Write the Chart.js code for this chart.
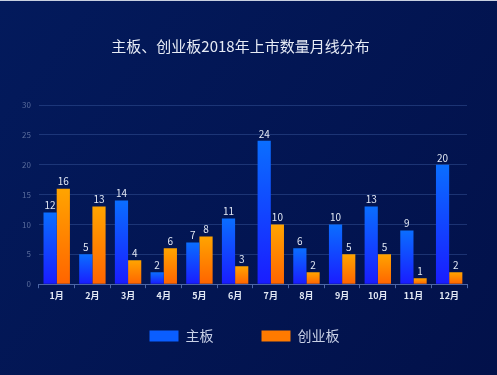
<!DOCTYPE html>
<html>
<head>
<meta charset="utf-8">
<script src="https://cdn.jsdelivr.net/npm/chart.js@4"></script>
<style>
  html, body { margin: 0; padding: 0; background: #03175a; }
  .wrap { width: 497px; height: 375px; position: relative; }
</style>
</head>
<body>
<div class="wrap"><canvas id="barChart"></canvas></div>
<script>
const months = ['1月', '2月', '3月', '4月', '5月', '6月', '7月', '8月', '9月', '10月', '11月', '12月'];
const mainBoard = [12, 5, 14, 2, 7, 11, 24, 6, 10, 13, 9, 20];
const chinext = [16, 13, 4, 6, 8, 3, 10, 2, 5, 5, 1, 2];
const yTicks = [0, 5, 10, 15, 20, 25, 30];

const FONT = '"Noto Sans CJK SC", "Noto Sans", sans-serif';

// gradient from top of each bar down to the axis
function barGradient(top, bottom) {
    return (ctx) => {
        const chart = ctx.chart;
        const y = chart.scales.y;
        if (!y || ctx.type !== 'data') return top;
        const v = ctx.raw;
        const y0 = y.getPixelForValue(v);
        const y1 = y.getPixelForValue(0);
        if (!isFinite(y0) || y0 === y1) return top;
        const g = chart.ctx.createLinearGradient(0, y0, 0, y1);
        g.addColorStop(0, top);
        g.addColorStop(1, bottom);
        return g;
    };
}

const bgPlugin = {
    id: 'bg',
    beforeDraw(chart) {
        const c = chart.ctx;
        const g = c.createLinearGradient(0, 0, chart.width, chart.height);
        g.addColorStop(0, '#031a5c');
        g.addColorStop(1, '#02114a');
        c.save();
        c.fillStyle = g;
        c.fillRect(0, 0, chart.width, chart.height);
        c.fillStyle = '#c8d0e0';
        c.fillRect(0, 0, chart.width, 1);
        c.restore();
    }
};

// wide legend padding for the horizontal gap, then pull the legend up a bit
const legendShift = {
    id: 'legendShift',
    afterLayout(chart) {
        const lg = chart.legend;
        if (!lg) return;
        lg.top -= 22;
        lg.bottom -= 22;
        lg.left += 4;
        lg.right += 4;
    }
};

const valueLabels = {
    id: 'valueLabels',
    afterDatasetsDraw(chart) {
        const c = chart.ctx;
        c.save();
        c.font = '10px ' + FONT;
        c.fillStyle = '#e2e8f4';
        c.textAlign = 'center';
        c.textBaseline = 'bottom';
        chart.data.datasets.forEach((ds, i) => {
            chart.getDatasetMeta(i).data.forEach((bar, j) => {
                c.fillText(ds.data[j], bar.x, bar.y - 2);
            });
        });
        c.restore();
    }
};

const CHART = document.getElementById('barChart');
const bar_Chart = new Chart(CHART, {
    type: 'bar',
    data: {
        labels: months,
        datasets: [{
            label: '主板',
            data: mainBoard,
            backgroundColor: barGradient('#0a6eff', '#1a1cff'),
            categoryPercentage: 0.74,
            barPercentage: 1
        }, {
            label: '创业板',
            data: chinext,
            backgroundColor: barGradient('#ffa400', '#ff6400'),
            categoryPercentage: 0.74,
            barPercentage: 1
        }]
    },
    options: {
        responsive: true,
        maintainAspectRatio: false,
        animation: false,
        layout: { padding: { left: 14, right: 30, top: 0, bottom: 0 } },
        plugins: {
            title: {
                display: true,
                text: '主板、创业板2018年上市数量月线分布',
                color: '#e6ebf5',
                font: { family: FONT, size: 15, weight: 'normal' },
                padding: { top: 37, bottom: 50 }
            },
            legend: {
                position: 'bottom',
                labels: {
                    color: '#c8d0e6',
                    font: { family: FONT, size: 14 },
                    boxWidth: 29,
                    boxHeight: 11,
                    padding: 48,
                    generateLabels(chart) {
                        const fills = ['#0a5eff', '#ff7a00'];
                        return chart.data.datasets.map((ds, i) => ({
                            text: ds.label,
                            fillStyle: fills[i],
                            strokeStyle: fills[i],
                            lineWidth: 0,
                            fontColor: '#c8d0e6',
                            datasetIndex: i
                        }));
                    }
                }
            },
            tooltip: { enabled: false }
        },
        scales: {
            x: {
                offset: true,
                grid: {
                    display: true,
                    offset: true,
                    drawOnChartArea: false,
                    drawTicks: true,
                    tickLength: 4,
                    color: '#4c66a6'
                },
                border: { display: true, color: '#4c66a6' },
                ticks: {
                    color: '#e2e8f4',
                    font: { family: FONT, size: 9, weight: 'bold' },
                    padding: 2
                }
            },
            y: {
                min: 0,
                max: 30,
                afterBuildTicks(axis) {
                    axis.ticks = yTicks.map(v => ({ value: v }));
                },
                grid: {
                    color: 'rgba(60, 90, 160, 0.45)',
                    drawTicks: false
                },
                border: { display: false },
                ticks: {
                    color: '#5a6c9c',
                    font: { family: FONT, size: 8 },
                    padding: 8
                }
            }
        }
    },
    plugins: [bgPlugin, legendShift, valueLabels]
});
</script>
</body>
</html>
